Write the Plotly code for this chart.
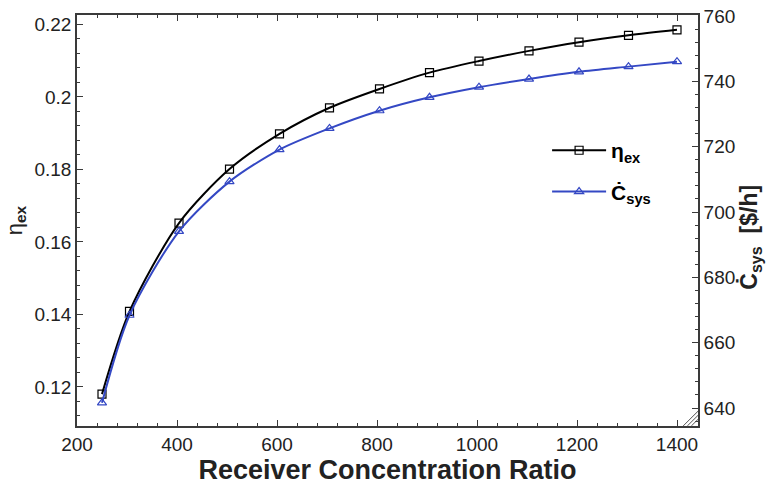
import plotly.graph_objects as go

# Data
ratio = [250, 305, 404, 505, 605, 705, 805, 905, 1004, 1104, 1204, 1303, 1400]
eta_ex = [0.1180, 0.1408, 0.1652, 0.1801, 0.1898, 0.1970, 0.2022, 0.2067,
          0.2099, 0.2127, 0.2151, 0.2170, 0.2185]
c_sys = [641.6, 668.4, 694.1, 709.3, 719.1, 725.6, 731.0, 735.1,
         738.2, 740.7, 742.9, 744.5, 746.0]

x_ticks = [200, 400, 600, 800, 1000, 1200, 1400]
y_ticks = [0.12, 0.14, 0.16, 0.18, 0.2, 0.22]
y_ticklabels = ["0.12", "0.14", "0.16", "0.18", "0.2", "0.22"]
y2_ticks = [640, 660, 680, 700, 720, 740, 760]

BLUE = "rgb(52,72,196)"
AX = "#3a3a3a"
FONT = "Liberation Sans, Arial, sans-serif"

fig = go.Figure()
fig.add_trace(go.Scatter(
    x=ratio, y=eta_ex, name="η<sub>ex</sub>", mode="lines+markers",
    line=dict(color="black", width=2, shape="spline", smoothing=0.8),
    marker=dict(symbol="square-open", size=8, color="black", line=dict(width=1.2)),
    legendgroup="a", yaxis="y"))
fig.add_trace(go.Scatter(
    x=ratio, y=c_sys, name="Ċ<sub>sys</sub>", mode="lines+markers",
    line=dict(color=BLUE, width=2, shape="spline", smoothing=0.8),
    marker=dict(symbol="triangle-up-open", size=8, color=BLUE, line=dict(width=1.2)),
    legendgroup="b", yaxis="y2"))

# hatched corner (size-grip artefact in the reference)
for t in [1.0, 0.72, 0.45]:
    fig.add_shape(type="line", xref="x domain", yref="y domain",
                  x0=1 - 0.024 * t, y0=0, x1=1, y1=0.036 * t,
                  line=dict(color="#555", width=1))

# right axis title as an annotation for finer placement
fig.add_annotation(text="<b>Ċ<sub>sys</sub>  [$/h]</b>", xref="paper", yref="paper",
                   x=1.085, y=0.46, xanchor="center", yanchor="middle",
                   textangle=-90, showarrow=False,
                   font=dict(family=FONT, size=23, color="#222"))

fig.update_layout(
    width=773, height=494,
    margin=dict(l=77, r=75, t=15, b=68, autoexpand=False),
    paper_bgcolor="white", plot_bgcolor="white",
    font=dict(family=FONT, size=19, color="#222"),
    showlegend=True,
    legend=dict(x=0.757, y=0.72, xanchor="left", yanchor="top",
                bgcolor="rgba(0,0,0,0)", borderwidth=0,
                font=dict(family=FONT, size=21, color="black", weight="bold"),
                itemwidth=54, tracegroupgap=11, traceorder="grouped"),
    xaxis=dict(
        range=[200, 1442], tickmode="array", tickvals=x_ticks, automargin=False,
        ticks="inside", ticklen=6, tickwidth=1.3, tickcolor=AX,
        minor=dict(dtick=40, tick0=200, ticks="inside", ticklen=3, tickcolor=AX),
        showline=True, linecolor=AX, linewidth=1.6, mirror="ticks",
        showgrid=False, zeroline=False,
        tickfont=dict(size=19, color="#222"),
        title=dict(text="Receiver Concentration Ratio",
                   font=dict(size=27, color="#222", weight="bold"), standoff=4)),
    yaxis=dict(
        range=[0.1092, 0.2226], tickmode="array", tickvals=y_ticks, ticktext=y_ticklabels,
        automargin=False,
        ticks="inside", ticklen=6, tickwidth=1.3, tickcolor=AX,
        minor=dict(dtick=0.004, tick0=0.12, ticks="inside", ticklen=3, tickcolor=AX),
        showline=True, linecolor=AX, linewidth=1.6, mirror=True,
        showgrid=False, zeroline=False,
        tickfont=dict(size=19, color="#222"),
        title=dict(text="η<sub><b>ex</b></sub>", font=dict(size=22, color="#222"), standoff=6)),
    yaxis2=dict(
        range=[634.5, 760.3], overlaying="y", side="right", automargin=False,
        tickmode="array", tickvals=y2_ticks, ticklabeloverflow="allow",
        ticks="inside", ticklen=6, tickwidth=1.3, tickcolor=AX,
        minor=dict(dtick=4, tick0=640, ticks="inside", ticklen=3, tickcolor=AX),
        showline=True, linecolor=AX, linewidth=1.6,
        showgrid=False, zeroline=False,
        tickfont=dict(size=19, color="#222")),
)

fig.write_html("out.html", config={"displayModeBar": False},
               post_script="document.body.style.margin='0px';")
